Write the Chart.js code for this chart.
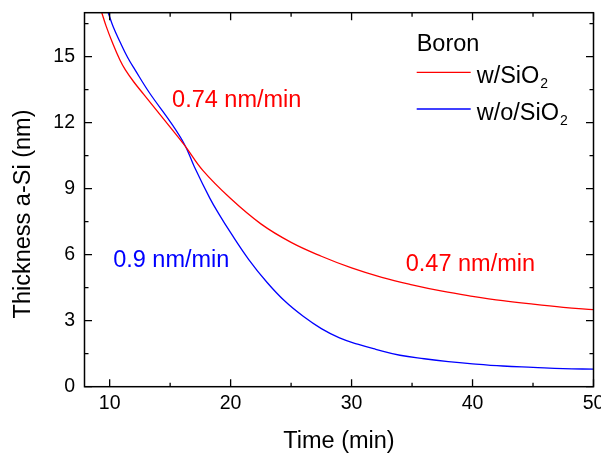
<!DOCTYPE html>
<html>
<head>
<meta charset="utf-8">
<script src="https://cdn.jsdelivr.net/npm/chart.js@4.4.0/dist/chart.umd.min.js"></script>
<style>
  body { margin: 0; background: #fff; }
  #wrap { width: 601px; height: 459px; }
</style>
</head>
<body>
<div id="wrap"><canvas id="thicknessChart" width="601" height="459"></canvas></div>
<script>
// Boron, w/SiO2 (red)
var timeWithOxide  = [9.35, 9.7, 10.2, 10.85, 11.3, 12.0, 12.8, 15, 16.2, 17.7, 20, 22.5, 25, 27.5, 30, 32.5, 35, 37.5, 40, 42.5, 45, 47.5, 50];
var thickWithOxide = [17.0, 16.4, 15.68, 14.85, 14.4, 13.85, 13.3, 11.8, 10.97, 9.83, 8.55, 7.4, 6.56, 5.93, 5.4, 4.97, 4.63, 4.34, 4.11, 3.91, 3.75, 3.61, 3.5];

// Boron, w/o SiO2 (blue)
var timeNoOxide  = [9.88, 10.3, 10.85, 11.5, 12.1, 13.3, 15, 16.2, 17, 18.3, 19, 20, 21.5, 23, 24.5, 26, 27.5, 29, 30.5, 32, 34, 36, 38, 40, 42.5, 45, 47.5, 50];
var thickNoOxide = [17.0, 16.35, 15.68, 14.95, 14.4, 13.35, 12.05, 11.0, 10.0, 8.55, 7.88, 7.0, 5.78, 4.75, 3.88, 3.2, 2.64, 2.22, 1.93, 1.7, 1.43, 1.27, 1.14, 1.04, 0.94, 0.88, 0.82, 0.8];

var xTicks = [10, 20, 30, 40, 50];
var yTicks = [0, 3, 6, 9, 12, 15];
var xMinor = [15, 25, 35, 45];
var yMinor = [1.5, 4.5, 7.5, 10.5, 13.5, 16.5];

var legendTitle = 'Boron';
var seriesNames = ['w/SiO', 'w/o/SiO'];   // subscript "2" drawn after
var rateLabels = ['0.74 nm/min', '0.9 nm/min', '0.47 nm/min'];

var RED = '#ff0000';
var BLUE = '#0000ff';
var FONT = '"Liberation Sans", Arial, sans-serif';

Chart.defaults.font.family = FONT;
Chart.defaults.color = '#000';

function toPoints(xs, ys) {
    var pts = [];
    for (var i = 0; i < xs.length; i++) pts.push({ x: xs[i], y: ys[i] });
    return pts;
}

// frame, inward ticks, y title, rate labels and the legend box
var decorPlugin = {
    id: 'decor',
    afterDraw: function (chart) {
        var ctx = chart.ctx;
        var a = chart.chartArea;
        var xs = chart.scales.x, ys = chart.scales.y;
        ctx.save();
        ctx.strokeStyle = '#000';
        ctx.lineWidth = 1.5;
        ctx.strokeRect(a.left, a.top, a.right - a.left, a.bottom - a.top);

        ctx.lineWidth = 1.3;
        ctx.beginPath();
        function xTick(v, len) {
            var px = xs.getPixelForValue(v);
            ctx.moveTo(px, a.bottom); ctx.lineTo(px, a.bottom - len);
            ctx.moveTo(px, a.top); ctx.lineTo(px, a.top + len);
        }
        function yTick(v, len) {
            var py = ys.getPixelForValue(v);
            ctx.moveTo(a.left, py); ctx.lineTo(a.left + len, py);
            ctx.moveTo(a.right, py); ctx.lineTo(a.right - len, py);
        }
        xTicks.forEach(function (v) { xTick(v, 7.5); });
        xMinor.forEach(function (v) { xTick(v, 4); });
        yTicks.forEach(function (v) { yTick(v, 7.5); });
        yMinor.forEach(function (v) { yTick(v, 4); });
        ctx.stroke();

        // y axis title
        ctx.fillStyle = '#000';
        ctx.font = '23.5px ' + FONT;
        ctx.textAlign = 'center';
        ctx.textBaseline = 'middle';
        ctx.save();
        ctx.translate(24, 214);
        ctx.rotate(-Math.PI / 2);
        ctx.fillText('Thickness a-Si (nm)', 0, 0);
        ctx.restore();

        // rate labels, anchored in data coordinates
        var anchors = [[15.16, 13.0, RED], [10.29, 5.75, BLUE], [34.48, 5.57, RED]];
        ctx.textAlign = 'left';
        rateLabels.forEach(function (t, i) {
            ctx.fillStyle = anchors[i][2];
            ctx.fillText(t, xs.getPixelForValue(anchors[i][0]), ys.getPixelForValue(anchors[i][1]));
        });

        // legend
        ctx.textBaseline = 'alphabetic';
        ctx.fillStyle = '#000';
        ctx.fillText(legendTitle, 416.7, 50.7);
        var rows = [[72.3, RED], [109, BLUE]];
        seriesNames.forEach(function (name, i) {
            var ly = rows[i][0];
            ctx.strokeStyle = rows[i][1];
            ctx.lineWidth = 1.3;
            ctx.beginPath();
            ctx.moveTo(416.7, ly); ctx.lineTo(470.7, ly);
            ctx.stroke();
            ctx.fillStyle = '#000';
            ctx.font = '23.5px ' + FONT;
            ctx.fillText(name, 476.7, ly + 11);
            var w = ctx.measureText(name).width;
            ctx.font = '14px ' + FONT;
            ctx.fillText('2', 476.7 + w + 1, ly + 16);
        });
        ctx.restore();
    }
};

new Chart(document.getElementById('thicknessChart'), {
    type: 'line',
    data: {
        datasets: [
            {
                label: 'w/SiO2',
                data: toPoints(timeWithOxide, thickWithOxide),
                borderColor: RED,
                borderWidth: 1.3,
                pointRadius: 0,
                tension: 0.4,
                fill: false
            },
            {
                label: 'w/o/SiO2',
                data: toPoints(timeNoOxide, thickNoOxide),
                borderColor: BLUE,
                borderWidth: 1.3,
                pointRadius: 0,
                tension: 0.4,
                fill: false
            }
        ]
    },
    options: {
        responsive: false,
        animation: false,
        layout: { padding: { left: 0, right: 7.5, top: 12.7, bottom: 0 } },
        plugins: { legend: { display: false }, tooltip: { enabled: false } },
        scales: {
            x: {
                type: 'linear',
                min: 7.92,
                max: 50,
                afterBuildTicks: function (s) { s.ticks = xTicks.map(function (v) { return { value: v }; }); },
                afterFit: function (s) { s.height = 72.3; s.paddingLeft = 0; s.paddingRight = 0; },
                grid: { display: false, drawTicks: false },
                border: { display: false },
                ticks: { font: { size: 19.5 }, padding: 5, maxRotation: 0, autoSkip: false },
                title: { display: true, text: 'Time (min)', font: { size: 23.5 }, padding: { top: 0, bottom: 3 } }
            },
            y: {
                type: 'linear',
                min: 0,
                max: 17,
                afterBuildTicks: function (s) { s.ticks = yTicks.map(function (v) { return { value: v }; }); },
                afterFit: function (s) { s.width = 84.5; s.paddingTop = 0; s.paddingBottom = 0; },
                grid: { display: false, drawTicks: false },
                border: { display: false },
                ticks: { font: { size: 19.5 }, padding: 9.5, autoSkip: false }
            }
        }
    },
    plugins: [decorPlugin]
});
</script>
</body>
</html>
